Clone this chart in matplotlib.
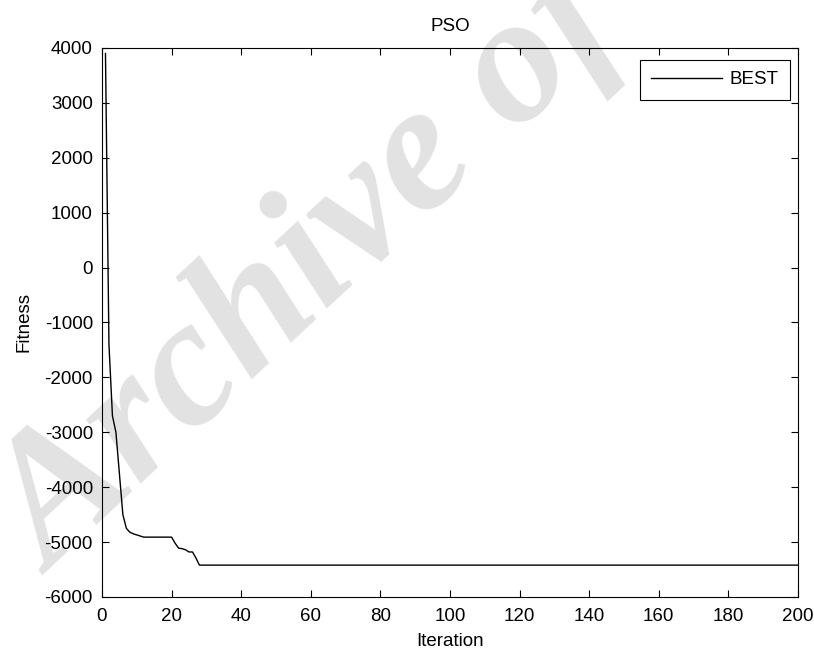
import numpy as np
import matplotlib
matplotlib.use("Agg")
import matplotlib.pyplot as plt

# best fitness per iteration
early_best = [3900, -1400, -2700, -3000, -3750, -4500, -4750, -4820, -4850, -4870,
              -4890, -4910, -4910, -4910, -4910, -4910, -4910, -4910, -4910, -4910,
              -5020, -5110, -5120, -5140, -5180, -5180, -5290, -5420]
final_best = -5420
n_iter = 200
best = early_best + [final_best] * (n_iter - len(early_best))
iterations = np.arange(1, n_iter + 1)

xticks = list(range(0, 201, 20))
yticks = list(range(-6000, 4001, 1000))

plt.rcParams['font.family'] = ['Liberation Sans', 'DejaVu Sans']
plt.rcParams['font.size'] = 13.5
plt.rcParams['axes.unicode_minus'] = False

fig = plt.figure(figsize=(8.14, 6.52), dpi=100)
ax = fig.add_axes([0.1253, 0.0844, 0.855, 0.842])

ax.plot(iterations, best, color='black', linewidth=1.0, label='BEST', zorder=3)

ax.set_xlim(0, 200)
ax.set_ylim(-6000, 4000)
ax.set_xticks(xticks)
ax.set_yticks(yticks)
ax.tick_params(axis='x', direction='in', top=True, length=5, width=0.8, pad=8)
ax.tick_params(axis='y', direction='in', right=True, length=5, width=0.8, pad=6.5)
for s in ax.spines.values():
    s.set_linewidth(0.8)

ax.set_title('PSO', fontsize=13.5, pad=12)
ax.set_xlabel('Iteration', labelpad=6)
ax.set_ylabel('Fitness', labelpad=9)

leg = ax.legend(loc='upper right', bbox_to_anchor=(0.9885, 0.978), borderaxespad=0,
                fancybox=False, framealpha=1, edgecolor='black',
                handlelength=3.8, handletextpad=0.4, borderpad=0.6, fontsize=13.5)
leg.get_frame().set_linewidth(0.8)
leg.set_zorder(5)

# watermark (only "Archive of" is visible in the picture)
ax.text(0.064, 0.118, 'Archive of', transform=fig.transFigure, clip_on=False,
        rotation=43, rotation_mode='anchor', ha='left', va='baseline',
        family='Liberation Serif', weight='bold', style='italic',
        fontsize=132, color='#e2e2e2', zorder=1)

fig.savefig('out.png', dpi=100)
